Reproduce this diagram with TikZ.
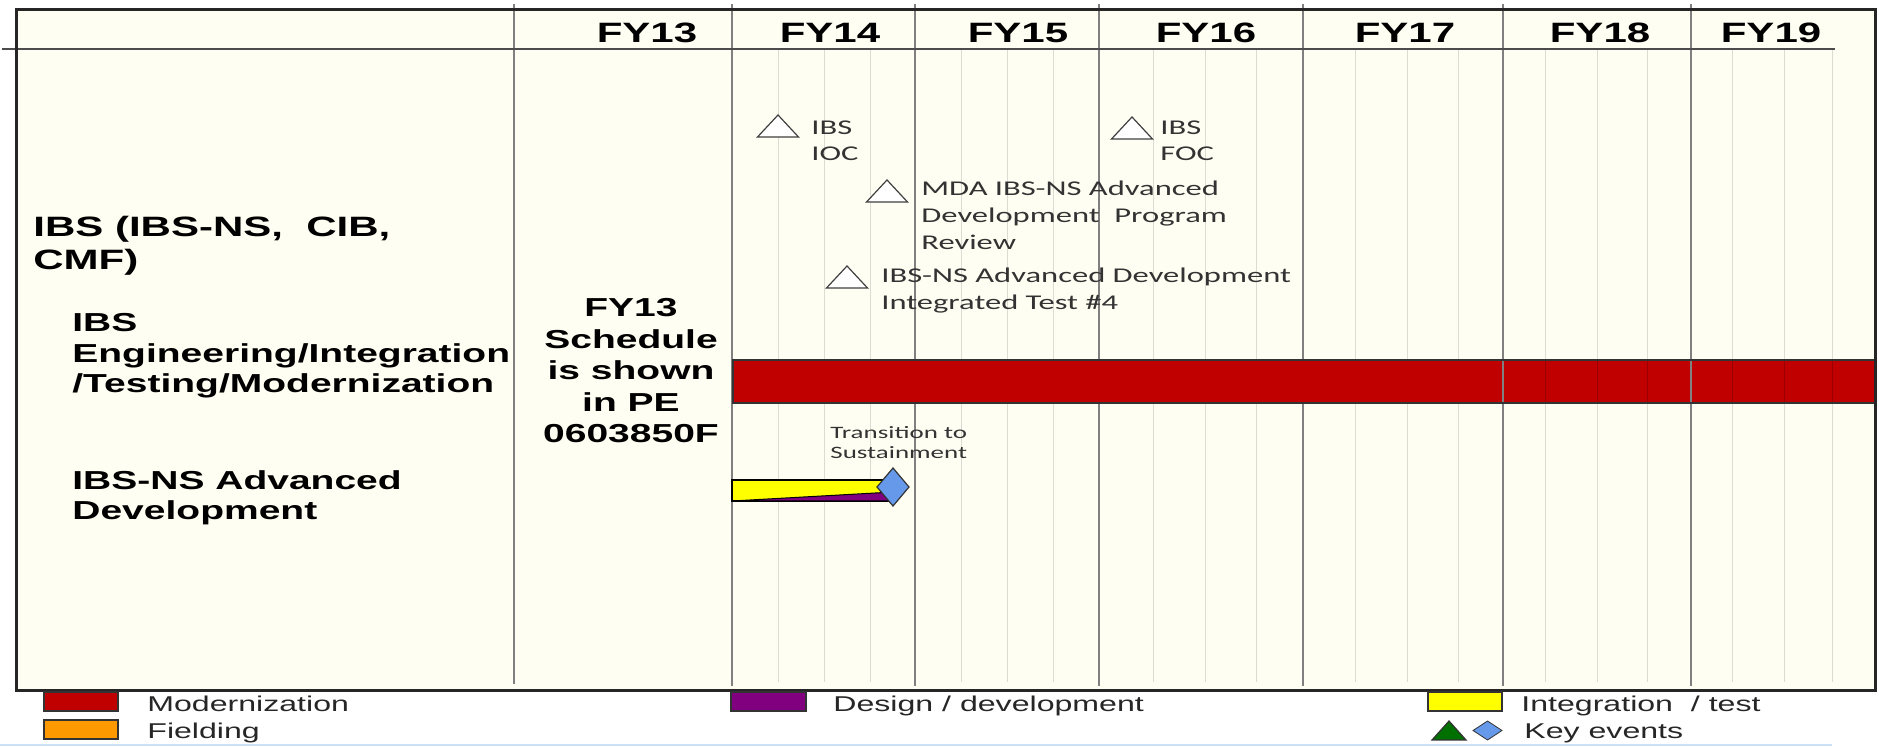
\documentclass[tikz,border=0pt]{standalone}
\usepackage{fontspec}
\setmainfont{Liberation Sans}[FakeStretch=1.5]
\newfontfamily\calfont{Carlito}[FakeStretch=1.55]
\definecolor{chartbg}{RGB}{254,254,242}
\definecolor{modred}{RGB}{192,0,0}
\definecolor{fieldorange}{RGB}{255,153,0}
\definecolor{devpurple}{RGB}{128,0,128}
\definecolor{testyellow}{RGB}{255,255,0}
\definecolor{keyblue}{RGB}{102,153,234}
\definecolor{keygreen}{RGB}{0,112,0}
\definecolor{majorgrid}{RGB}{128,128,128}
\definecolor{minorgrid}{RGB}{220,220,210}
\definecolor{edgeblue}{RGB}{205,225,245}
\begin{document}
\begin{tikzpicture}[x=0.5pt, y=-0.5pt,
    rowlabel/.style={anchor=north west, inner sep=0pt, align=left, font=\bfseries\fontsize{13}{15.25}\selectfont},
    yearlabel/.style={anchor=center, inner sep=0pt, font=\bfseries\fontsize{14}{16}\selectfont},
    eventlabel/.style={anchor=north west, inner sep=0pt, align=left, text=black!80, font=\calfont\fontsize{10.5}{13.25}\selectfont},
    legendlabel/.style={anchor=base west, inner sep=0pt, text=black!85, font=\fontsize{10.7}{13}\selectfont},
    milestone/.style={draw=black!75, fill=white, line width=0.6pt},
    minorline/.style={draw=minorgrid, line width=0.5pt},
    majorline/.style={draw=majorgrid, line width=0.75pt},
    swatch/.style={draw=black!80, line width=0.6pt}]
    \useasboundingbox (0,0) rectangle (1879,747);
    % chart area
    \fill[chartbg] (16,10) rectangle (1875,691);
    \foreach \gx in {778,824,870,961,1007,1053,1153,1205,1256,1355,1407,1458,1545,1597,1647,1732,1784,1832}
        \draw[minorline] (\gx,50) -- (\gx,682);
    \foreach \gx in {732,915,1099,1303,1503,1691}
        \draw[majorline] (\gx,4) -- (\gx,686);
    \draw[majorline, line width=1.1pt] (514,4) -- (514,684);
    \draw[black!70, line width=0.8pt] (2,49) -- (1835,49);

    % year header
    \node[yearlabel] (fy13) at (647,33) {FY13};
    \node[yearlabel] (fy14) at (830,33) {FY14};
    \node[yearlabel] (fy15) at (1018,33) {FY15};
    \node[yearlabel] (fy16) at (1206,33) {FY16};
    \node[yearlabel] (fy17) at (1405,33) {FY17};
    \node[yearlabel] (fy18) at (1600,33) {FY18};
    \node[yearlabel] (fy19) at (1771,33) {FY19};

    % row labels
    \node[rowlabel, font=\bfseries\fontsize{14}{16.5}\selectfont] (program) at (33,216) {IBS (IBS-NS,\ \ CIB,\\CMF)};
    \node[rowlabel] (engrow) at (72,313) {IBS\\Engineering/Integration\\/Testing/Modernization};
    \node[rowlabel, font=\bfseries\fontsize{13}{15}\selectfont] (advrow) at (72,470) {IBS-NS Advanced\\Development};
    \node[rowlabel, anchor=north, align=center, font=\bfseries\fontsize{13}{15.75}\selectfont] (fy13note) at (631,298) {FY13\\Schedule\\is shown\\in PE\\0603850F};

    % milestones
    \foreach \cx/\by in {778/137, 1132/139, 887/202, 847/288}
        \draw[milestone] (\cx-20.5,\by) -- (\cx+20.5,\by) -- (\cx,\by-22) -- cycle;
    \node[eventlabel] (ioc) at (811,120) {IBS\\IOC};
    \node[eventlabel] (foc) at (1160,120) {IBS\\FOC};
    \node[eventlabel, font=\calfont\fontsize{10.5}{13.5}\selectfont] (review) at (921,181) {MDA IBS-NS Advanced\\Development\ \ Program\\Review};
    \node[eventlabel] (test4) at (881,268) {IBS-NS Advanced Development\\Integrated Test \#4};

    % modernization bar
    \draw[fill=modred, draw=black!80, line width=0.6pt] (733,360) rectangle (1875,403);
    \foreach \gx in {1545,1597,1647,1732,1784,1832}
        \draw[modred!80!black, line width=0.4pt] (\gx,361) -- (\gx,402);
    \foreach \gx in {1503,1691}
        \draw[majorline] (\gx,361) -- (\gx,402);

    % advanced development bar
    \draw[fill=testyellow, draw=black, line width=0.6pt] (732,480) rectangle (893,501);
    \draw[fill=devpurple, draw=black, line width=0.5pt] (732,501) -- (893,492) -- (893,501) -- cycle;
    \draw[fill=keyblue, draw=black!80, line width=0.6pt] (893,468) -- (909,487) -- (893,506) -- (877,487) -- cycle;
    \node[eventlabel, font=\calfont\fontsize{8.7}{10}\selectfont] (transition) at (830,426) {Transition to\\Sustainment};

    % frame
    \draw[black!85, line width=1.5pt] (16,10) rectangle (1875,691);

    % legend
    \draw[swatch, fill=modred] (44,692) rectangle (118,711);
    \draw[swatch, fill=fieldorange] (44,720) rectangle (118,739);
    \draw[swatch, fill=devpurple] (731,692) rectangle (806,711);
    \draw[swatch, fill=testyellow] (1428,692) rectangle (1502,711);
    \draw[swatch, fill=keygreen] (1432,740) -- (1466,740) -- (1449,721) -- cycle;
    \draw[swatch, fill=keyblue, line width=0.4pt] (1487.5,721) -- (1502,730.5) -- (1487.5,740) -- (1473,730.5) -- cycle;
    \node[legendlabel] (lmod) at (147,711.5) {Modernization};
    \node[legendlabel] (lfield) at (147,738.5) {Fielding};
    \node[legendlabel] (ldesign) at (833,711.5) {Design / development};
    \node[legendlabel] (ltest) at (1521,711.5) {Integration \ / test};
    \node[legendlabel] (lkey) at (1524,738.5) {Key events};
    \draw[edgeblue, line width=1pt] (0,745) -- (1832,745);
\end{tikzpicture}
\end{document}
